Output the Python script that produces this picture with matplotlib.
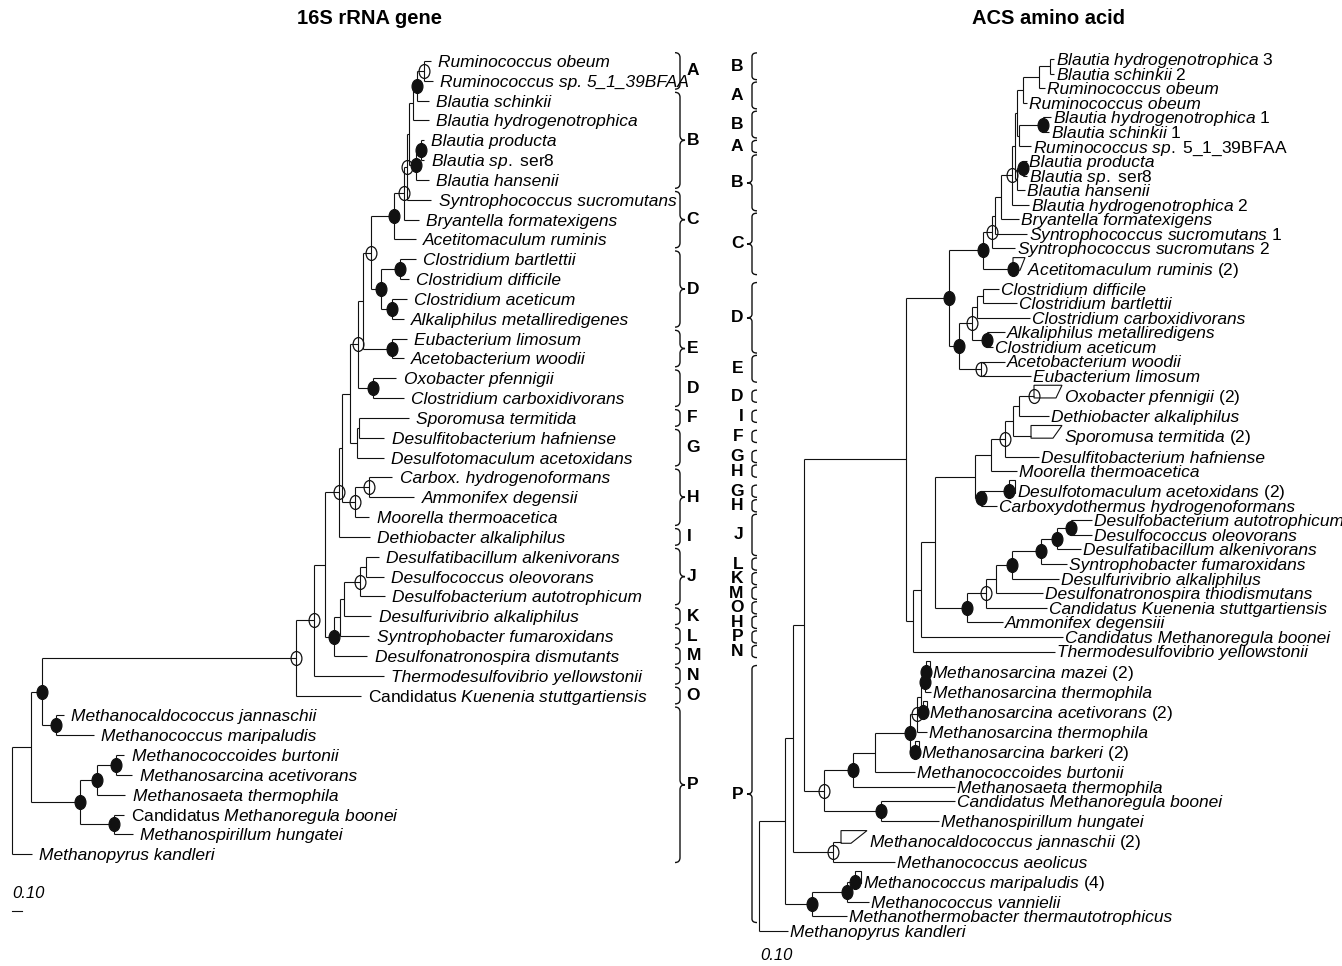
import re
import matplotlib
matplotlib.use("Agg")
import matplotlib.pyplot as plt
from matplotlib.path import Path
from matplotlib.patches import PathPatch, Polygon
from matplotlib.transforms import Affine2D, offset_copy

plt.rcParams["font.family"] = ["Liberation Sans", "DejaVu Sans"]
plt.rcParams["mathtext.fontset"] = "custom"
plt.rcParams["mathtext.rm"] = "Liberation Sans"
plt.rcParams["mathtext.it"] = "Liberation Sans:italic"
plt.rcParams["mathtext.bf"] = "Liberation Sans:bold"

# ---------------- 16S rRNA gene tree ----------------
# leaf labels top -> bottom, text in {} is upright
s16_labels = [
    "Ruminococcus obeum", "Ruminococcus sp. 5_1_39BFAA", "Blautia schinkii",
    "Blautia hydrogenotrophica", "Blautia producta", "Blautia sp. {ser8}",
    "Blautia hansenii", "Syntrophococcus sucromutans", "Bryantella formatexigens",
    "Acetitomaculum ruminis", "Clostridium bartlettii", "Clostridium difficile",
    "Clostridium aceticum", "Alkaliphilus metalliredigenes", "Eubacterium limosum",
    "Acetobacterium woodii", "Oxobacter pfennigii", "Clostridium carboxidivorans",
    "Sporomusa termitida", "Desulfitobacterium hafniense", "Desulfotomaculum acetoxidans",
    "Carbox. hydrogenoformans", "Ammonifex degensii", "Moorella thermoacetica",
    "Dethiobacter alkaliphilus", "Desulfatibacillum alkenivorans", "Desulfococcus oleovorans",
    "Desulfobacterium autotrophicum", "Desulfurivibrio alkaliphilus",
    "Syntrophobacter fumaroxidans", "Desulfonatronospira dismutants",
    "Thermodesulfovibrio yellowstonii", "{Candidatus} Kuenenia stuttgartiensis",
    "Methanocaldococcus jannaschii", "Methanococcus maripaludis",
    "Methanococcoides burtonii", "Methanosarcina acetivorans", "Methanosaeta thermophila",
    "{Candidatus} Methanoregula boonei", "Methanospirillum hungatei", "Methanopyrus kandleri",
]

# (child, parent, branch length); ints are leaves
s16_edges = [
    ("r2", "root", 0.19), (40, "root", 0.20),
    ("rb", "r2", 0.11), ("mx", "r2", 0.49),
    ("b1", "rb", 2.54), ("mc", "rb", 0.14),
    ("b2", "b1", 0.18), (32, "b1", 0.65),
    ("b3", "b2", 0.11), (31, "b2", 0.70),
    ("f1", "b3", 0.14), ("dl", "b3", 0.09),
    ("f2", "f1", 0.03), (24, "f1", 0.31),
    ("f3", "f2", 0.08), ("h", "f2", 0.13),
    ("x1", "f3", 0.08), ("fg", "f3", 0.07),
    ("x2", "x1", 0.05), ("oxc", "x1", 0.15),
    ("cd", "x2", 0.08), ("e", "x2", 0.29),
    ("cb", "cd", 0.23), ("d", "cd", 0.10),
    ("bc2", "cb", 0.10), (9, "cb", 0.22),
    ("ab", "bc2", 0.03), (8, "bc2", 0.15),
    ("abt", "ab", 0.02), (7, "ab", 0.25),
    ("ab2", "abt", 0.05), ("p2", "abt", 0.07),
    ("as", "ab2", 0.03), (3, "ab2", 0.15),
    ("a1", "as", 0.07), (2, "as", 0.12),
    (0, "a1", 0.07), (1, "a1", 0.09),
    ("p1", "p2", 0.05), (6, "p2", 0.13),
    (4, "p1", 0.03), (5, "p1", 0.03),
    ("d1", "d", 0.19), ("d2", "d", 0.11),
    (10, "d1", 0.16), (11, "d1", 0.09),
    (12, "d2", 0.15), (13, "d2", 0.12),
    (14, "e", 0.15), (15, "e", 0.12),
    (16, "oxc", 0.24), (17, "oxc", 0.31),
    ("sg", "fg", 0.02), (20, "fg", 0.27),
    (18, "sg", 0.50), (19, "sg", 0.26),
    ("h2", "h", 0.15), (23, "h", 0.15),
    (21, "h2", 0.23), (22, "h2", 0.45),
    ("dl2", "dl", 0.06), (30, "dl", 0.34),
    ("dl3", "dl2", 0.04), (29, "dl2", 0.30),
    ("j", "dl3", 0.16), (28, "dl3", 0.28),
    ("j2", "j", 0.06), (27, "j", 0.25),
    (25, "j2", 0.13), (26, "j2", 0.18),
    (33, "mc", 0.08), (34, "mc", 0.38),
    ("ms", "mx", 0.18), ("mreg", "mx", 0.34),
    ("ms2", "ms", 0.19), (37, "ms", 0.28),
    (35, "ms2", 0.08), (36, "ms2", 0.16),
    (38, "mreg", 0.10), (39, "mreg", 0.19),
]

# bootstrap support: F = filled circle, O = open circle
s16_support = {
    "rb": "F", "mx": "F", "ms": "F", "ms2": "F", "mreg": "F", "mc": "F",
    "b1": "O", "b2": "O", "f1": "O", "dl": "F", "j": "O", "h": "O", "h2": "O",
    "x1": "O", "oxc": "F", "e": "F", "d": "F", "d1": "F", "d2": "F", "cd": "O",
    "cb": "F", "bc2": "O", "ab": "O", "as": "F", "a1": "O", "p1": "F", "p2": "F",
}

s16_groups = [
    ("A", 0, 1), ("B", 2, 6), ("C", 7, 9), ("D", 10, 13), ("E", 14, 15),
    ("D", 16, 17), ("F", 18, 18), ("G", 19, 20), ("H", 21, 23), ("I", 24, 24),
    ("J", 25, 27), ("K", 28, 28), ("L", 29, 29), ("M", 30, 30), ("N", 31, 31),
    ("O", 32, 32), ("P", 33, 40),
]

# ---------------- ACS amino acid tree ----------------
acs_labels = [
    "Blautia hydrogenotrophica {3}", "Blautia schinkii {2}", "Ruminococcus obeum",
    "Ruminococcus obeum", "Blautia hydrogenotrophica {1}", "Blautia schinkii {1}",
    "Ruminococcus sp. {5_1_39BFAA}", "Blautia producta", "Blautia sp. {ser8}",
    "Blautia hansenii", "Blautia hydrogenotrophica {2}", "Bryantella formatexigens",
    "Syntrophococcus sucromutans {1}", "Syntrophococcus sucromutans {2}",
    "Acetitomaculum ruminis {(2)}", "Clostridium difficile", "Clostridium bartlettii",
    "Clostridium carboxidivorans", "Alkaliphilus metalliredigens", "Clostridium aceticum",
    "Acetobacterium woodii", "Eubacterium limosum", "Oxobacter pfennigii {(2)}",
    "Dethiobacter alkaliphilus", "Sporomusa termitida {(2)}",
    "Desulfitobacterium hafniense", "Moorella thermoacetica",
    "Desulfotomaculum acetoxidans {(2)}", "Carboxydothermus hydrogenoformans",
    "Desulfobacterium autotrophicum", "Desulfococcus oleovorans",
    "Desulfatibacillum alkenivorans", "Syntrophobacter fumaroxidans",
    "Desulfurivibrio alkaliphilus", "Desulfonatronospira thiodismutans",
    "Candidatus Kuenenia stuttgartiensis", "Ammonifex degensiii",
    "Candidatus Methanoregula boonei", "Thermodesulfovibrio yellowstonii",
    "Methanosarcina mazei {(2)}", "Methanosarcina thermophila",
    "Methanosarcina acetivorans {(2)}", "Methanosarcina thermophila",
    "Methanosarcina barkeri {(2)}", "Methanococcoides burtonii", "Methanosaeta thermophila",
    "Candidatus Methanoregula boonei", "Methanospirillum hungatei",
    "Methanocaldococcus jannaschii {(2)}", "Methanococcus aeolicus",
    "Methanococcus maripaludis {(4)}", "Methanococcus vannielii",
    "Methanothermobacter thermautotrophicus", "Methanopyrus kandleri",
]

acs_edges = [
    ("r2", "root", 0.26), (53, "root", 0.29),
    ("r3", "r2", 0.08), ("mth", "r2", 0.27),
    ("r4", "r3", 0.11), ("mcal", "r3", 0.40),
    ("bact", "r4", 1.02), ("mm", "r4", 0.20),
    ("cl", "bact", 0.43), ("t1", "bact", 0.07),
    ("lc", "cl", 0.34), ("de", "cl", 0.10),
    ("lc2", "lc", 0.09), (14, "lc", 0.30),
    ("lc2b", "lc2", 0.03), (13, "lc2", 0.23),
    ("lc3", "lc2b", 0.06), (12, "lc2b", 0.32),
    ("bh", "lc3", 0.11), (11, "lc3", 0.18),
    ("bl", "bh", 0.03), (10, "bh", 0.17),
    ("tm", "bl", 0.02), ("bp2", "bl", 0.02),
    ("t0", "tm", 0.06), ("tm2", "tm", 0.02),
    ("ta", "t0", 0.16), (3, "t0", 0.04),
    ("tb", "ta", 0.11), (2, "ta", 0.06),
    (0, "tb", 0.04), (1, "tb", 0.04),
    ("bhbs1", "tm2", 0.24), (6, "tm2", 0.12),
    (4, "bhbs1", 0.08), (5, "bhbs1", 0.06),
    ("ps", "bp2", 0.06), (9, "bp2", 0.08),
    (7, "ps", 0.04), (8, "ps", 0.04),
    ("dc", "de", 0.13), ("e", "de", 0.22),
    ("dc2", "dc", 0.05), ("ac", "dc", 0.15),
    ("df", "dc2", 0.06), (17, "dc2", 0.53),
    (15, "df", 0.16), (16, "df", 0.34),
    (18, "ac", 0.18), (19, "ac", 0.06),
    (20, "e", 0.24), (21, "e", 0.50),
    ("t2", "t1", 0.08), (38, "t1", 1.42),
    ("t3", "t2", 0.14), (37, "t2", 1.42),
    ("fm1", "t3", 0.40), ("dl", "t3", 0.32),
    ("fm2", "fm1", 0.16), ("deca", "fm1", 0.06),
    ("fm3", "fm2", 0.14), (26, "fm2", 0.26),
    ("fm4", "fm3", 0.08), (25, "fm3", 0.34),
    ("fm5", "fm4", 0.06), (24, "fm4", 0.18),
    (22, "fm5", 0.15), (23, "fm5", 0.30),
    (27, "deca", 0.28), (28, "deca", 0.16),
    ("ku", "dl", 0.19), (36, "dl", 0.36),
    ("dsn", "ku", 0.10), (35, "ku", 0.61),
    ("da", "dsn", 0.16), (34, "dsn", 0.47),
    ("db", "da", 0.29), (33, "da", 0.47),
    ("dcc", "db", 0.16), (32, "db", 0.26),
    ("dd", "dcc", 0.14), (31, "dcc", 0.24),
    (29, "dd", 0.21), (30, "dd", 0.21),
    ("msarc", "mm", 0.29), ("mreg", "mm", 0.57),
    ("ms2", "msarc", 0.22), (45, "msarc", 1.02),
    ("ms3", "ms2", 0.35), (44, "ms2", 0.40),
    ("ms4", "ms3", 0.07), (43, "ms3", 0.05),
    ("ms5", "ms4", 0.04), (42, "ms4", 0.10),
    ("mzth", "ms5", 0.04), (41, "ms5", 0.02),
    (39, "mzth", 0.01), (40, "mzth", 0.06),
    (46, "mreg", 0.74), (47, "mreg", 0.58),
    (48, "mcal", 0.08), (49, "mcal", 0.62),
    ("mv", "mth", 0.35), (52, "mth", 0.35),
    (50, "mv", 0.08), (51, "mv", 0.22),
]

acs_support = {
    "cl": "F", "lc": "F", "lc2": "O", "bh": "O", "bhbs1": "F", "ps": "F", 14: "F",
    "de": "F", "dc": "O", "ac": "F", "e": "O", "fm3": "O", 22: "O", "deca": "F",
    27: "F", "dl": "F", "ku": "O", "da": "F", "db": "F", "dcc": "F", "dd": "F",
    "mm": "O", "msarc": "F", "ms3": "F", "ms4": "O", "mzth": "F", 39: "F", 41: "F",
    43: "F", "mreg": "F", "mcal": "O", "mth": "F", "mv": "F", 50: "F",
}

# collapsed clades: leaf -> (longest, shortest) depth inside the wedge
acs_collapsed = {
    14: (0.12, 0.07), 22: (0.28, 0.22), 24: (0.31, 0.22), 27: (0.06, 0.06),
    39: (0.04, 0.04), 41: (0.04, 0.04), 43: (0.04, 0.04), 48: (0.26, 0.10),
    50: (0.06, 0.06),
}

acs_groups = [
    ("B", 0, 1), ("A", 2, 3), ("B", 4, 5), ("A", 6, 6), ("B", 7, 10), ("C", 11, 14),
    ("D", 15, 19), ("E", 20, 21), ("D", 22, 22), ("I", 23, 23), ("F", 24, 24),
    ("G", 25, 25), ("H", 26, 26), ("G", 27, 27), ("H", 28, 28), ("J", 29, 31),
    ("L", 32, 32), ("K", 33, 33), ("M", 34, 34), ("O", 35, 35), ("H", 36, 36),
    ("P", 37, 37), ("N", 38, 38), ("P", 39, 52),
]

# layout: rows of the ACS tree that get extra room
acs_wide_rows = {14, 15, 22, 23, 24, 25, 27, 39, 40, 41, 42, 43, 44, 47, 48, 49, 50, 51}
WIDE = 1.38

INK = "#111111"
LW = 0.8
FS = 12.5
ELL = Path.unit_circle().transformed(Affine2D().scale(0.78, 1.0))


def mtext(label):
    if "{" not in label:
        return label, "italic"
    parts = re.split(r"[{}]", label)
    out = []
    for k, part in enumerate(parts):
        if not part:
            continue
        s = part.replace("_", r"\_").replace(" ", r"\ ")
        out.append((r"\mathrm{%s}" if k % 2 else r"\mathit{%s}") % s)
    return "$" + "".join(out) + "$", "normal"


def layout(edges, leaf_y):
    parent = {c: p for c, p, _ in edges}
    length = {c: l for c, _, l in edges}
    kids = {}
    for c, p, _ in edges:
        kids.setdefault(p, []).append(c)
    root = [n for n in kids if n not in parent][0]
    x = {root: 0.0}
    order = [root]
    i = 0
    while i < len(order):
        n = order[i]
        i += 1
        for c in kids.get(n, []):
            x[c] = x[n] + length[c]
            order.append(c)
    y = dict(leaf_y)
    for n in reversed(order):
        if n in kids:
            ys = [y[c] for c in kids[n]]
            y[n] = (min(ys) + max(ys)) / 2
    return x, y, kids


def draw_tree(ax, edges, labels, leaf_y, support, collapsed, gap):
    x, y, kids = layout(edges, leaf_y)
    kw = dict(color=INK, lw=LW, solid_capstyle="butt", zorder=2)
    for c, p, _ in edges:
        ax.plot([x[p], x[c]], [y[c], y[c]], **kw)
    for n, ch in kids.items():
        ys = [y[c] for c in ch]
        ax.plot([x[n], x[n]], [min(ys), max(ys)], **kw)
    for i, (longest, shortest) in collapsed.items():
        xc, yc = x[i], y[i]
        ax.add_patch(Polygon([(xc, yc - 0.75), (xc + longest, yc - 0.75),
                              (xc + shortest, yc + 0.12), (xc, yc + 0.12)],
                             closed=True, fill=False, ec=INK, lw=LW, zorder=2))
    tr = offset_copy(ax.transData, fig=ax.figure, x=gap, y=-4.3, units="points")
    for i, lab in enumerate(labels):
        tip = x[i] + collapsed.get(i, (0, 0))[0]
        txt, style = mtext(lab)
        ax.text(tip, y[i], txt, transform=tr, ha="left", va="baseline",
                fontsize=FS, style=style, color="black")
    for n, kind in support.items():
        ax.plot(x[n], y[n], marker=ELL, ms=10, mec=INK, mew=0.9,
                mfc=INK if kind == "F" else "none", ls="none", zorder=3)


def bracket(ax, x0, top, bot, w, curly):
    r = min(0.25, (bot - top) / 4)
    mid = (top + bot) / 2
    xs = x0 + w
    verts = [(x0, top), (xs, top), (xs, top + r)]
    codes = [Path.MOVETO, Path.CURVE3, Path.CURVE3]
    if curly:
        verts += [(xs, mid - r), (xs, mid), (x0 + 2 * w, mid), (xs, mid), (xs, mid + r)]
        codes += [Path.LINETO, Path.CURVE3, Path.CURVE3, Path.CURVE3, Path.CURVE3]
    verts += [(xs, bot - r), (xs, bot), (x0, bot)]
    codes += [Path.LINETO, Path.CURVE3, Path.CURVE3]
    ax.add_patch(PathPatch(Path(verts, codes), fill=False, ec=INK, lw=1.0))
    return mid


fig = plt.figure(figsize=(13.42, 9.66), dpi=100)
ax1 = fig.add_axes([0, 0, 720 / 1342, 1])
ax2 = fig.add_axes([720 / 1342, 0, 622 / 1342, 1])
for ax in (ax1, ax2):
    ax.set_axis_off()

# left tree: 1 unit = 100 px, rows of 19.83 px
ax1.set_xlim(-0.115, 7.085)
ax1.set_ylim((966 - 61) / 19.83, -61 / 19.83)
s16_y = {i: float(i) for i in range(len(s16_labels))}
draw_tree(ax1, s16_edges, s16_labels, s16_y, s16_support, {}, 5.5)
for letter, a, b in s16_groups:
    mid = bracket(ax1, 6.635, s16_y[a] - 0.42, s16_y[b] + 0.42, 0.05, b - a >= 2 or letter in "BE")
    ax1.text(6.75, mid, letter, ha="left", va="center", fontsize=12.5, fontweight="bold")
ax1.text(0.005, (893 - 61) / 19.83, "0.10", fontsize=12, style="italic", ha="left", va="center")
ax1.plot([0.005, 0.105], [(911 - 61) / 19.83] * 2, color=INK, lw=LW)

# right tree
acs_y = {}
pos = 0.0
for i in range(len(acs_labels)):
    if i:
        pos += WIDE if i in acs_wide_rows else 1.0
    acs_y[i] = pos
pxu = (931 - 59) / pos
ax2.set_xlim(-0.39, 5.83)
ax2.set_ylim((966 - 59) / pxu, -59 / pxu)
draw_tree(ax2, acs_edges, acs_labels, acs_y, acs_support, acs_collapsed, 1.6)
for letter, a, b in acs_groups:
    mid = bracket(ax2, -0.02, acs_y[a] - 0.42, acs_y[b] + 0.42, -0.05, b - a >= 3)
    ax2.text(-0.155, mid, letter, ha="right", va="center", fontsize=12.5, fontweight="bold")
ax2.text(0.01, (956 - 59) / pxu, "0.10", fontsize=12, style="italic", ha="left", va="center")

fig.text(370 / 1342, 1 - 18 / 966, "16S rRNA gene", ha="center", va="center",
         fontsize=14.5, fontweight="bold")
fig.text(1048 / 1342, 1 - 18 / 966, "ACS amino acid", ha="center", va="center",
         fontsize=14.5, fontweight="bold")

fig.savefig("out.png", dpi=100)
